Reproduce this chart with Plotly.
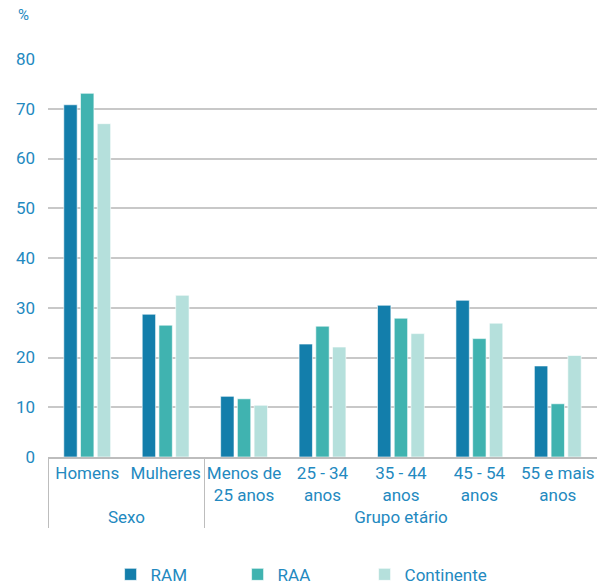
import plotly.graph_objects as go

groups = ["Sexo", "Sexo", "Grupo etário", "Grupo etário", "Grupo etário", "Grupo etário", "Grupo etário"]
categories = ["Homens", "Mulheres", "Menos de<br>25 anos", "25 - 34<br>anos", "35 - 44<br>anos", "45 - 54<br>anos", "55 e mais<br>anos"]
ram = [70.8, 28.7, 12.2, 22.7, 30.5, 31.5, 18.3]
raa = [73.1, 26.5, 11.7, 26.3, 27.9, 23.8, 10.7]
continente = [67.0, 32.5, 10.4, 22.1, 24.8, 26.9, 20.4]
series_names = ["RAM", "RAA", "Continente"]
colors = ["#137EAB", "#40B3B0", "#B5E0DC"]
ytick_vals = [0, 10, 20, 30, 40, 50, 60, 70, 80]

text_color = "#2389C0"
fig = go.Figure()
for name, vals, col in zip(series_names, [ram, raa, continente], colors):
    fig.add_trace(go.Bar(
        x=[groups, categories], y=vals, name=name,
        marker=dict(color=col, line=dict(color="rgba(255,255,255,0.6)", width=1)),
    ))

fig.update_layout(
    width=597, height=586,
    barmode="group", bargap=0.36, bargroupgap=0.2,
    plot_bgcolor="white", paper_bgcolor="white",
    font=dict(family="Roboto, sans-serif", size=17, color=text_color),
    margin=dict(l=48, r=0, t=59, b=129, autoexpand=False),
    legend=dict(orientation="h", x=0.114, xanchor="left", y=-0.296, yanchor="middle",
                font=dict(size=17, color=text_color), traceorder="normal",
                entrywidth=82),
    xaxis=dict(type="multicategory", showline=True, linecolor="#BDBDBD", linewidth=1.5,
               showdividers=True, dividercolor="#BDBDBD", dividerwidth=1,
               tickfont=dict(size=17, color=text_color), range=[-0.5, 6.5], ticks="",
               tickangle=0, automargin=False),
    yaxis=dict(range=[0, 80], tickvals=ytick_vals, showgrid=True, gridcolor="#C8C8C8",
               gridwidth=1.5, zeroline=False, tickfont=dict(size=17, color=text_color),
               ticks="", ticklabelstandoff=12, automargin=False),
    annotations=[dict(text="%", xref="paper", yref="paper", x=-0.044, y=1.11,
                      xanchor="center", yanchor="middle",
                      showarrow=False, font=dict(size=15, color=text_color))],
)
fig.write_html("out.html", config={"displayModeBar": False},
               post_script="document.body.style.margin='0';")
